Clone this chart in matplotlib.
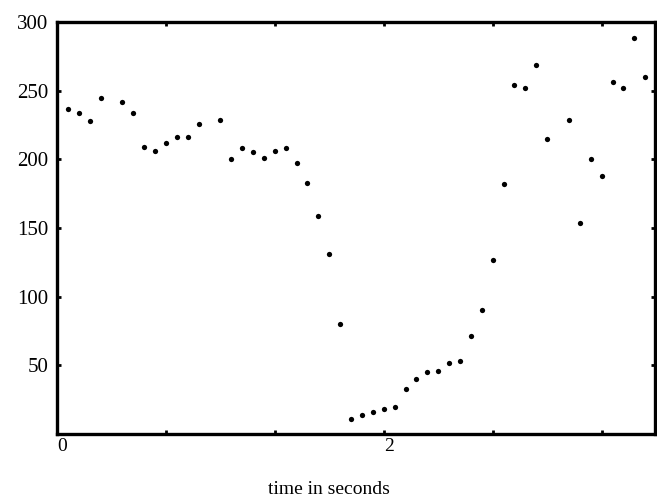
import matplotlib
matplotlib.use("Agg")
import matplotlib.pyplot as plt
import matplotlib.transforms as mtransforms

# time in seconds (frames at 1/15 s)
time_s = [0.067, 0.133, 0.200, 0.267, 0.400, 0.467, 0.533, 0.600, 0.667, 0.733,
          0.800, 0.867, 1.000, 1.067, 1.133, 1.200, 1.267, 1.333, 1.400, 1.467,
          1.533, 1.600, 1.667, 1.733, 1.800, 1.867, 1.933, 2.000, 2.067, 2.133,
          2.200, 2.267, 2.333, 2.400, 2.467, 2.533, 2.600, 2.667, 2.733, 2.800,
          2.867, 2.933, 3.000, 3.133, 3.200, 3.267, 3.333, 3.400, 3.467, 3.533,
          3.600]
values = [237, 234, 228, 245, 242, 234, 209, 206, 212, 216,
          216, 226, 229, 200, 208, 205, 201, 206, 208, 197,
          183, 159, 131, 80, 11, 14, 16, 18, 20, 33,
          40, 45, 46, 52, 53, 71, 90, 127, 182, 254,
          252, 269, 215, 229, 154, 200, 188, 256, 252, 288,
          260]

x_ticks = [0, 2/3, 4/3, 2, 8/3, 10/3]
x_tick_labels = ["0", "", "", "2", "", ""]
y_ticks = [50, 100, 150, 200, 250, 300]
y_tick_labels = ["50", "100", "150", "200", "250", "300"]

plt.rcParams['font.family'] = ['Liberation Serif', 'DejaVu Serif']

fig = plt.figure(figsize=(6.57, 5.0), dpi=100)
ax = fig.add_axes([57/657, 1-434/500, (655-57)/657, (434-22)/500])

ax.plot(time_s, values, linestyle='none', marker='o', markersize=3.8,
        color='black', markeredgewidth=0)

ax.set_xlim(0, 3.66)
ax.set_ylim(0, 300)
ax.set_xticks(x_ticks)
ax.set_xticklabels(x_tick_labels)
ax.set_yticks(y_ticks)
ax.set_yticklabels(y_tick_labels)

for sp in ax.spines.values():
    sp.set_linewidth(2.4)
    sp.set_color('black')

ax.tick_params(axis='both', which='major', direction='in', length=3, width=2,
               top=True, right=True, color='black')
ax.tick_params(axis='x', pad=3, labelsize=14)
ax.tick_params(axis='y', pad=6, labelsize=15)

offset = mtransforms.ScaledTranslation(5/100, 0, fig.dpi_scale_trans)
for lbl in ax.get_xticklabels():
    lbl.set_transform(lbl.get_transform() + offset)

fig.text(329/657, 1-489/500, "time in seconds", ha='center', va='center',
         fontsize=14)

fig.savefig("out.png", dpi=100, facecolor='white')
